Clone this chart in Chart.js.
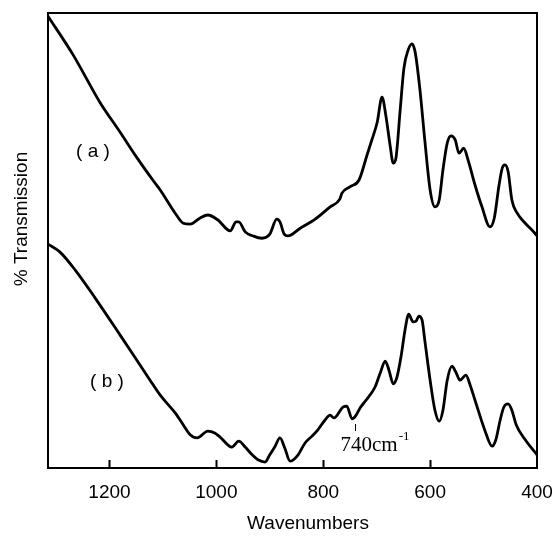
<!DOCTYPE html>
<html>
<head>
<meta charset="utf-8">
<script src="https://cdn.jsdelivr.net/npm/chart.js@4/dist/chart.umd.min.js"></script>
<style>
  html, body { margin: 0; padding: 0; background: #fff; }
  #wrap { width: 556px; height: 537px; }
</style>
</head>
<body>
<div id="wrap"><canvas id="c" width="556" height="537"></canvas></div>
<script>
// Wavenumbers (cm-1) and % transmission (arbitrary 0-100 frame units)
const waveA = [1315,1268,1218,1180,1148,1119,1105,1077,1062,1049,1031,1016,997,974,963,958,946,931,915,900,887,881,873,866,843,815,787,769,765,750,733,718,709,699,690,683,675,669,664,656,649,641,634,628,619,610,600,591,583,576,568,561,553,546,537,529,516,503,488,480,471,465,460,454,447,437,422,404,400];
const transA = [99.3,90.8,80.4,73.8,68.1,63.3,61.1,56.0,53.8,53.6,54.9,55.6,54.5,52.1,54.1,54.1,51.9,51.0,50.5,51.4,54.7,54.1,51.4,51.0,52.7,54.7,57.4,59.1,60.4,61.8,63.3,68.8,72.1,76.0,81.5,77.6,71.0,67.0,68.1,78.7,87.9,91.9,93.2,91.4,83.1,72.1,61.1,57.4,58.9,65.5,71.4,73.0,72.1,69.2,70.3,67.7,62.2,57.4,53.0,54.9,62.2,65.9,66.6,65.1,58.9,56.0,53.8,51.6,51.0];

const waveB = [1315,1293,1264,1227,1180,1124,1105,1077,1062,1049,1036,1016,1003,993,971,958,946,933,922,909,900,890,881,872,862,847,834,821,810,797,787,780,763,756,746,739,731,720,703,693,684,677,669,662,654,647,640,632,626,621,615,610,600,591,583,576,568,559,552,544,533,525,516,497,484,477,469,462,454,447,439,422,400];
const transB = [49.2,47.5,43.5,37.4,29.2,19.3,16.0,12.1,9.5,7.3,6.6,8.1,7.7,6.8,4.6,5.9,4.6,2.9,1.8,1.3,2.9,4.8,6.6,4.4,1.5,2.9,5.5,7.0,8.4,10.5,11.6,11.0,13.4,13.6,10.8,11.5,13.2,14.9,17.8,21.0,23.5,21.5,18.5,20.0,24.8,30.3,33.8,32.1,32.3,33.4,32.5,28.1,19.3,12.7,10.3,12.7,19.3,22.4,21.1,19.3,20.4,18.2,14.9,8.1,4.8,6.2,10.5,13.4,14.1,12.7,9.5,6.2,2.9];

const tickValues = [400, 600, 800, 1000, 1200];
const innerTickValues = [600, 800, 1000, 1200];
const seriesLabels = ['( a )', '( b )'];
const xTitle = 'Wavenumbers';
const yTitle = '% Transmission';
const bandValue = 740;
const bandText = '740cm';
const bandSup = '-1';

const toPts = (xs, ys) => xs.map((x, i) => ({ x: x, y: ys[i] }));

const annot = {
  id: 'annot',
  afterDraw(chart) {
    const { ctx, chartArea: a, scales } = chart;
    const xs = scales.x;
    ctx.save();
    ctx.strokeStyle = '#000';
    ctx.fillStyle = '#000';
    // frame
    ctx.lineWidth = 2;
    ctx.strokeRect(a.left, a.top, a.right - a.left, a.bottom - a.top);
    // inward ticks
    innerTickValues.forEach(v => {
      const px = Math.round(xs.getPixelForValue(v)) + 0.5;
      ctx.beginPath();
      ctx.moveTo(px, a.bottom);
      ctx.lineTo(px, a.bottom - 8);
      ctx.stroke();
    });
    // series labels
    ctx.font = '19px "Liberation Sans", Arial, sans-serif';
    ctx.textAlign = 'center';
    ctx.textBaseline = 'middle';
    ctx.fillText(seriesLabels[0], 93, 152);
    ctx.fillText(seriesLabels[1], 107, 382);
    // x title
    ctx.fillText(xTitle, 308, 524);
    // y title
    ctx.save();
    ctx.translate(22, 219);
    ctx.rotate(-Math.PI / 2);
    ctx.fillText(yTitle, 0, 0);
    ctx.restore();
    // 740 band marker
    const bx = Math.round(xs.getPixelForValue(bandValue)) + 0.5;
    ctx.lineWidth = 1;
    ctx.beginPath();
    ctx.moveTo(bx, 424);
    ctx.lineTo(bx, 431);
    ctx.stroke();
    ctx.textAlign = 'left';
    ctx.textBaseline = 'alphabetic';
    ctx.font = '21px "Liberation Serif", "Times New Roman", serif';
    const lx = bx - 15;
    ctx.fillText(bandText, lx, 451);
    const w = ctx.measureText(bandText).width;
    ctx.font = '13px "Liberation Serif", "Times New Roman", serif';
    ctx.fillText(bandSup, lx + w + 1, 440);
    ctx.restore();
  }
};

new Chart(document.getElementById('c'), {
  type: 'line',
  data: {
    datasets: [
      { label: 'a', data: toPts(waveA, transA), borderColor: '#000', borderWidth: 2.8, pointRadius: 0, fill: false, cubicInterpolationMode: 'monotone' },
      { label: 'b', data: toPts(waveB, transB), borderColor: '#000', borderWidth: 2.8, pointRadius: 0, fill: false, cubicInterpolationMode: 'monotone' }
    ]
  },
  options: {
    responsive: false,
    animation: false,
    devicePixelRatio: 1,
    layout: { padding: { left: 48, top: 13, right: 19, bottom: 0 } },
    plugins: { legend: { display: false }, tooltip: { enabled: false } },
    scales: {
      x: {
        type: 'linear',
        reverse: true,
        min: 400,
        max: 1315,
        grid: { display: false },
        border: { display: false },
        afterBuildTicks: s => { s.ticks = tickValues.map(v => ({ value: v })); },
        afterFit: s => { s.height = 69; },
        ticks: {
          color: '#000',
          font: { family: '"Liberation Sans", Arial, sans-serif', size: 19 },
          padding: 5,
          maxRotation: 0,
          autoSkip: false,
          callback: v => String(v)
        }
      },
      y: {
        display: false,
        min: 0,
        max: 100
      }
    }
  },
  plugins: [annot]
});
</script>
</body>
</html>
